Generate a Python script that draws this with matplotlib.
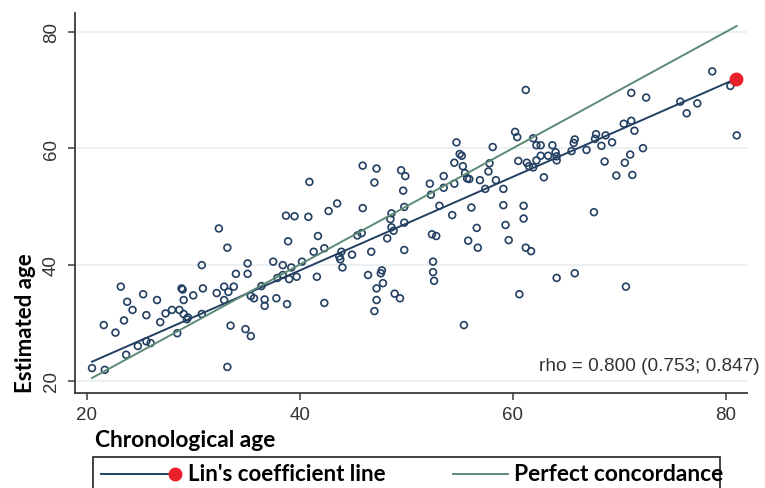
import numpy as np
import matplotlib
matplotlib.use('Agg')
import matplotlib.pyplot as plt
from matplotlib.lines import Line2D
from matplotlib.patches import Rectangle

# chronological age (x) and estimated age (y)
chrono_age = [
    20.5, 21.7, 21.6, 22.7, 23.2, 23.5, 23.7, 23.8, 24.3, 24.8,
    25.3, 25.6, 25.6, 26.0, 26.6, 26.9, 27.4, 28.0, 28.5, 28.7,
    28.9, 29.0, 29.1, 29.1, 29.5, 29.4, 30.0, 30.8, 30.8, 30.9,
    32.2, 32.4, 32.9, 32.9, 33.2, 33.2, 33.3, 33.5, 33.8, 34.0,
    34.9, 35.1, 35.1, 35.4, 35.4, 35.7, 36.4, 36.7, 36.7, 37.5,
    37.8, 37.9, 38.4, 38.4, 38.7, 38.8, 38.9, 39.0, 39.2, 39.5,
    39.7, 40.2, 40.9, 40.8, 41.3, 41.6, 41.7, 42.3, 42.3, 42.7,
    43.5, 43.7, 43.8, 43.9, 44.0, 44.9, 45.4, 45.8, 45.9, 45.9,
    46.4, 46.7, 47.0, 47.0, 47.2, 47.2, 47.2, 47.7, 47.6, 47.8,
    48.2, 48.5, 48.6, 48.6, 48.8, 48.9, 49.4, 49.5, 49.9, 49.7,
    49.8, 49.8, 49.8, 52.2, 52.3, 52.4, 52.8, 52.5, 52.5, 52.6,
    53.1, 53.5, 53.5, 54.3, 54.5, 54.5, 54.7, 55.0, 55.2, 55.3,
    55.4, 55.5, 55.7, 55.9, 55.8, 56.1, 56.6, 56.7, 56.9, 57.4,
    57.7, 57.8, 58.1, 58.4, 59.1, 59.1, 59.3, 59.6, 60.2, 60.4,
    60.5, 60.6, 61.0, 61.0, 61.2, 61.3, 61.5, 61.2, 61.7, 61.9,
    61.9, 62.2, 62.2, 62.6, 62.6, 62.9, 63.3, 63.7, 64.0, 64.1,
    64.1, 64.1, 65.5, 65.7, 65.8, 65.8, 66.9, 67.6, 67.8, 67.7,
    68.3, 68.6, 68.7, 69.3, 69.7, 70.4, 70.5, 70.6, 71.0, 71.1,
    71.1, 71.2, 71.4, 72.2, 72.5, 75.7, 76.3, 77.3, 78.7, 80.4,
    81.0]
est_age = [
    22.2, 21.9, 29.6, 28.3, 36.2, 30.4, 24.5, 33.6, 32.2, 26.0,
    34.9, 31.3, 26.8, 26.5, 33.9, 30.1, 31.6, 32.2, 28.2, 32.2,
    35.9, 35.7, 33.9, 31.5, 30.9, 30.6, 34.7, 31.5, 39.9, 35.9,
    35.1, 46.2, 36.2, 33.9, 42.9, 22.4, 35.3, 29.5, 36.2, 38.4,
    28.9, 40.2, 38.4, 27.7, 34.6, 34.2, 36.3, 34.0, 32.9, 40.5,
    34.2, 37.7, 38.2, 39.9, 48.4, 33.2, 44.0, 37.5, 39.5, 48.3,
    37.9, 40.5, 54.2, 48.2, 42.2, 37.9, 44.9, 42.8, 33.4, 49.2,
    50.5, 41.4, 40.9, 42.2, 39.5, 41.7, 45.0, 45.4, 49.7, 57.0,
    38.2, 42.2, 54.1, 32.0, 56.5, 35.9, 33.9, 39.0, 38.5, 36.8,
    44.5, 47.8, 48.8, 46.4, 45.8, 35.0, 34.2, 56.2, 55.2, 52.7,
    49.9, 47.2, 42.5, 53.9, 52.0, 45.2, 44.9, 40.5, 38.7, 37.2,
    50.1, 55.2, 53.2, 48.5, 57.5, 53.9, 61.0, 59.0, 58.7, 56.9,
    29.6, 55.7, 54.8, 54.7, 44.1, 49.8, 46.3, 42.9, 54.5, 53.0,
    56.0, 57.4, 60.2, 54.5, 53.0, 50.2, 46.8, 44.2, 62.8, 61.9,
    57.8, 34.9, 50.1, 47.9, 70.0, 57.5, 56.9, 42.9, 42.3, 56.7,
    61.7, 57.9, 60.5, 60.5, 58.7, 55.0, 58.7, 60.5, 59.3, 58.6,
    57.9, 37.7, 59.5, 60.9, 61.5, 38.5, 59.7, 49.0, 62.4, 61.6,
    60.4, 57.7, 62.2, 61.0, 55.3, 64.2, 57.5, 36.2, 58.9, 69.5,
    64.7, 55.4, 63.0, 60.0, 68.7, 68.0, 66.0, 67.7, 73.2, 70.7,
    62.2]

# Lin's concordance line end points and the perfect concordance line
lin_x = [20.5, 80.9]
lin_y = [23.3, 71.9]
perfect_x = [20.5, 81.0]
perfect_y = [20.5, 81.0]

rho_text = 'rho = 0.800 (0.753; 0.847)'

navy = '#233f61'
green = '#5b8a76'
label_font = ['Lato', 'DejaVu Sans']
tick_font = ['Liberation Sans', 'DejaVu Sans']

fig = plt.figure(figsize=(7.65, 4.89), dpi=100)
ax = fig.add_axes([0.098, 0.194, 0.879, 0.777])

for yv in [20, 40, 60, 80]:
    ax.axhline(yv, color='#e8eef0', lw=1.2, zorder=0)

ax.scatter(chrono_age, est_age, s=24, facecolors='none', edgecolors=navy,
           linewidths=1.2, zorder=3)
ax.plot(lin_x, lin_y, color=navy, lw=1.4, zorder=4)
ax.plot(perfect_x, perfect_y, color=green, lw=1.4, zorder=4)
ax.plot(lin_x[-1], lin_y[-1], 'o', color='#e8202a', ms=9, zorder=5)

ax.set_xlim(18.9, 82.0)
ax.set_ylim(17.9, 83.2)
ax.set_xticks([20, 40, 60, 80])
ax.set_yticks([20, 40, 60, 80])
for s in ['top', 'right']:
    ax.spines[s].set_visible(False)
for s in ['left', 'bottom']:
    ax.spines[s].set_color('#3a3a3a')
    ax.spines[s].set_linewidth(1.3)
ax.tick_params(axis='both', length=5, width=1.1, color='#3a3a3a',
               labelsize=13.5, labelcolor='#333333')
ax.tick_params(axis='y', pad=6)
ax.tick_params(axis='x', pad=4)
for lab in ax.get_yticklabels():
    lab.set_rotation(90)
    lab.set_va('center')
    lab.set_family(tick_font)
for lab in ax.get_xticklabels():
    lab.set_family(tick_font)

ax.text(1.018, 0.074, rho_text, transform=ax.transAxes, ha='right',
        va='center', fontsize=13.7, color='#333333', family=tick_font)

fig.text(0.033, 0.339, 'Estimated age', rotation=90, ha='center',
         va='center', fontsize=16, fontweight='bold', family=label_font)
fig.text(0.124, 0.100, 'Chronological age', ha='left', va='center',
         fontsize=16.4, fontweight='bold', family=label_font)

# legend box drawn by hand, it runs off the bottom edge
fig.add_artist(Rectangle((0.1216, -0.05), 0.82, 0.1134,
                         transform=fig.transFigure, fill=False,
                         edgecolor='#333333', lw=1.3))
fig.add_artist(Line2D([0.132, 0.229], [0.029, 0.029], color=navy, lw=1.4,
                      transform=fig.transFigure))
fig.add_artist(Line2D([0.229], [0.029], marker='o', color='#e8202a', ms=9,
                      transform=fig.transFigure))
fig.text(0.246, 0.029, "Lin's coefficient line", ha='left', va='center',
         fontsize=16, fontweight='bold', family=label_font)
fig.add_artist(Line2D([0.592, 0.664], [0.029, 0.029], color=green, lw=1.4,
                      transform=fig.transFigure))
fig.text(0.672, 0.029, 'Perfect concordance', ha='left', va='center',
         fontsize=16.4, fontweight='bold', family=label_font)

fig.savefig('out.png', dpi=100)
